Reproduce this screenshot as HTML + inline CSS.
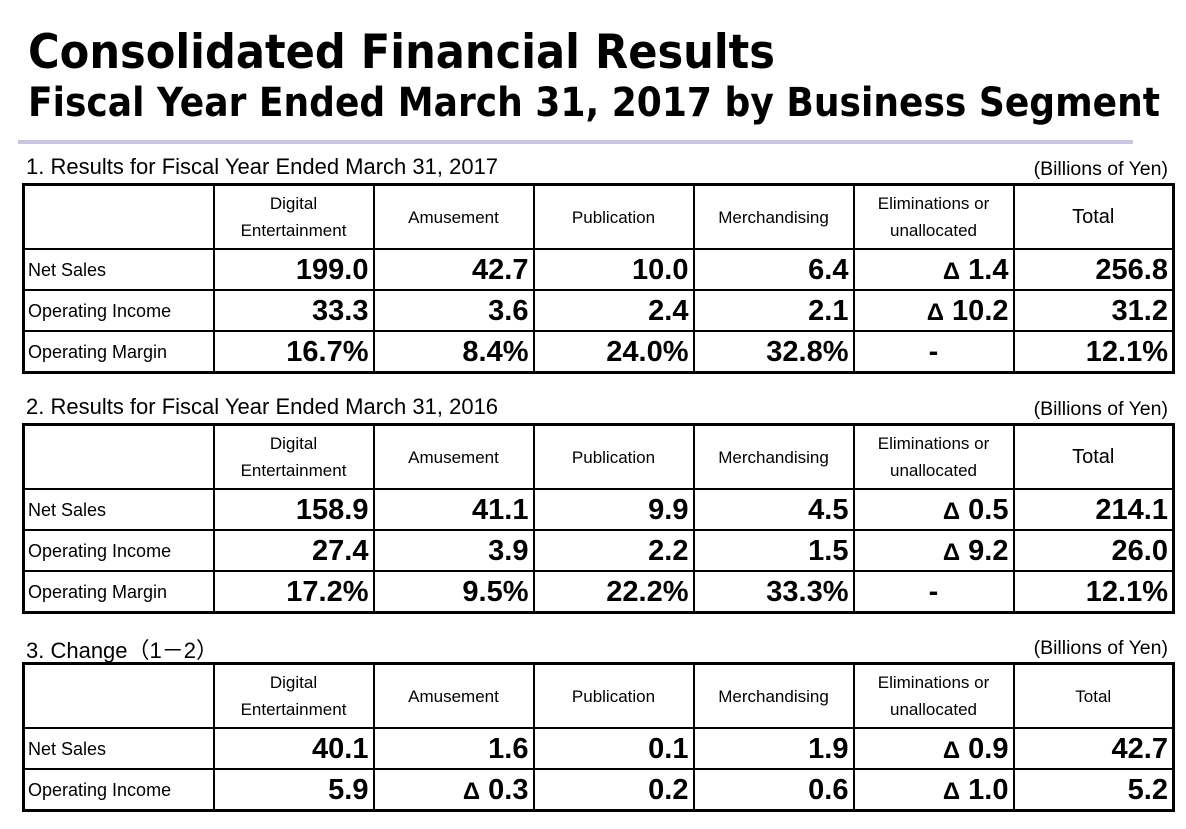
<!DOCTYPE html>
<html><head><meta charset="utf-8">
<style>
body{margin:0;background:#fff;width:1186px;height:829px;position:relative;overflow:hidden;font-family:"Liberation Sans","Noto Sans CJK JP",sans-serif;color:#000}
.sec{position:absolute;left:26px;font-size:22px;white-space:nowrap}
.unit{position:absolute;right:18px;font-size:19.5px;white-space:nowrap}
table{position:absolute;left:22px;border-collapse:collapse;border:3px solid #000;table-layout:fixed;width:1153px}
td{border:2px solid #000;padding:0;overflow:hidden;white-space:nowrap}
tr.h td{height:62px;text-align:center;font-size:17px;line-height:27px}
tr.d td{height:39px;font-size:18px;line-height:20px}
tr.d td.n{text-align:right;font-weight:bold;font-size:29px;line-height:30px;padding-right:4px;vertical-align:middle}
tr.d td.c{text-align:center;font-weight:bold;font-size:29px;line-height:30px}
.t{font-size:24px;line-height:0;font-family:"Liberation Sans",sans-serif;font-weight:bold}
td.l{padding-left:3px}
</style></head><body>
<svg style="position:absolute;left:0;top:0" width="1186" height="130">
<text x="28" y="68" font-family="DejaVu Sans" font-weight="bold" font-size="47" textLength="747" lengthAdjust="spacingAndGlyphs">Consolidated Financial Results</text>
<text x="28" y="116" font-family="DejaVu Sans" font-weight="bold" font-size="40" textLength="1132" lengthAdjust="spacingAndGlyphs">Fiscal Year Ended March 31, 2017 by Business Segment</text>
</svg>
<div style="position:absolute;left:18px;top:140px;width:1115px;height:4px;background:#cbc6df"></div>

<div class="sec" style="top:154px">1. Results for Fiscal Year Ended March 31, 2017</div>
<div class="unit" style="top:158px">(Billions of Yen)</div>
<table style="top:183px">
<colgroup><col style="width:190px"><col style="width:160px"><col style="width:160px"><col style="width:160px"><col style="width:160px"><col style="width:160px"><col style="width:160px"></colgroup>
<tr class="h"><td></td><td>Digital<br>Entertainment</td><td>Amusement</td><td>Publication</td><td>Merchandising</td><td>Eliminations or<br>unallocated</td><td style="font-size:20px">Total</td></tr>
<tr class="d"><td class="l">Net Sales</td><td class="n">199.0</td><td class="n">42.7</td><td class="n">10.0</td><td class="n">6.4</td><td class="n"><span class="t">Δ</span> 1.4</td><td class="n">256.8</td></tr>
<tr class="d"><td class="l">Operating Income</td><td class="n">33.3</td><td class="n">3.6</td><td class="n">2.4</td><td class="n">2.1</td><td class="n"><span class="t">Δ</span> 10.2</td><td class="n">31.2</td></tr>
<tr class="d"><td class="l">Operating Margin</td><td class="n">16.7%</td><td class="n">8.4%</td><td class="n">24.0%</td><td class="n">32.8%</td><td class="c">-</td><td class="n">12.1%</td></tr>
</table>

<div class="sec" style="top:394px">2. Results for Fiscal Year Ended March 31, 2016</div>
<div class="unit" style="top:398px">(Billions of Yen)</div>
<table style="top:423px">
<colgroup><col style="width:190px"><col style="width:160px"><col style="width:160px"><col style="width:160px"><col style="width:160px"><col style="width:160px"><col style="width:160px"></colgroup>
<tr class="h"><td></td><td>Digital<br>Entertainment</td><td>Amusement</td><td>Publication</td><td>Merchandising</td><td>Eliminations or<br>unallocated</td><td style="font-size:20px">Total</td></tr>
<tr class="d"><td class="l">Net Sales</td><td class="n">158.9</td><td class="n">41.1</td><td class="n">9.9</td><td class="n">4.5</td><td class="n"><span class="t">Δ</span> 0.5</td><td class="n">214.1</td></tr>
<tr class="d"><td class="l">Operating Income</td><td class="n">27.4</td><td class="n">3.9</td><td class="n">2.2</td><td class="n">1.5</td><td class="n"><span class="t">Δ</span> 9.2</td><td class="n">26.0</td></tr>
<tr class="d"><td class="l">Operating Margin</td><td class="n">17.2%</td><td class="n">9.5%</td><td class="n">22.2%</td><td class="n">33.3%</td><td class="c">-</td><td class="n">12.1%</td></tr>
</table>

<div class="sec" style="top:633px">3. Change（1－2）</div>
<div class="unit" style="top:637px">(Billions of Yen)</div>
<table style="top:662px">
<colgroup><col style="width:190px"><col style="width:160px"><col style="width:160px"><col style="width:160px"><col style="width:160px"><col style="width:160px"><col style="width:160px"></colgroup>
<tr class="h"><td></td><td>Digital<br>Entertainment</td><td>Amusement</td><td>Publication</td><td>Merchandising</td><td>Eliminations or<br>unallocated</td><td>Total</td></tr>
<tr class="d"><td class="l">Net Sales</td><td class="n">40.1</td><td class="n">1.6</td><td class="n">0.1</td><td class="n">1.9</td><td class="n"><span class="t">Δ</span> 0.9</td><td class="n">42.7</td></tr>
<tr class="d"><td class="l">Operating Income</td><td class="n">5.9</td><td class="n"><span class="t">Δ</span> 0.3</td><td class="n">0.2</td><td class="n">0.6</td><td class="n"><span class="t">Δ</span> 1.0</td><td class="n">5.2</td></tr>
</table>
</body></html>
